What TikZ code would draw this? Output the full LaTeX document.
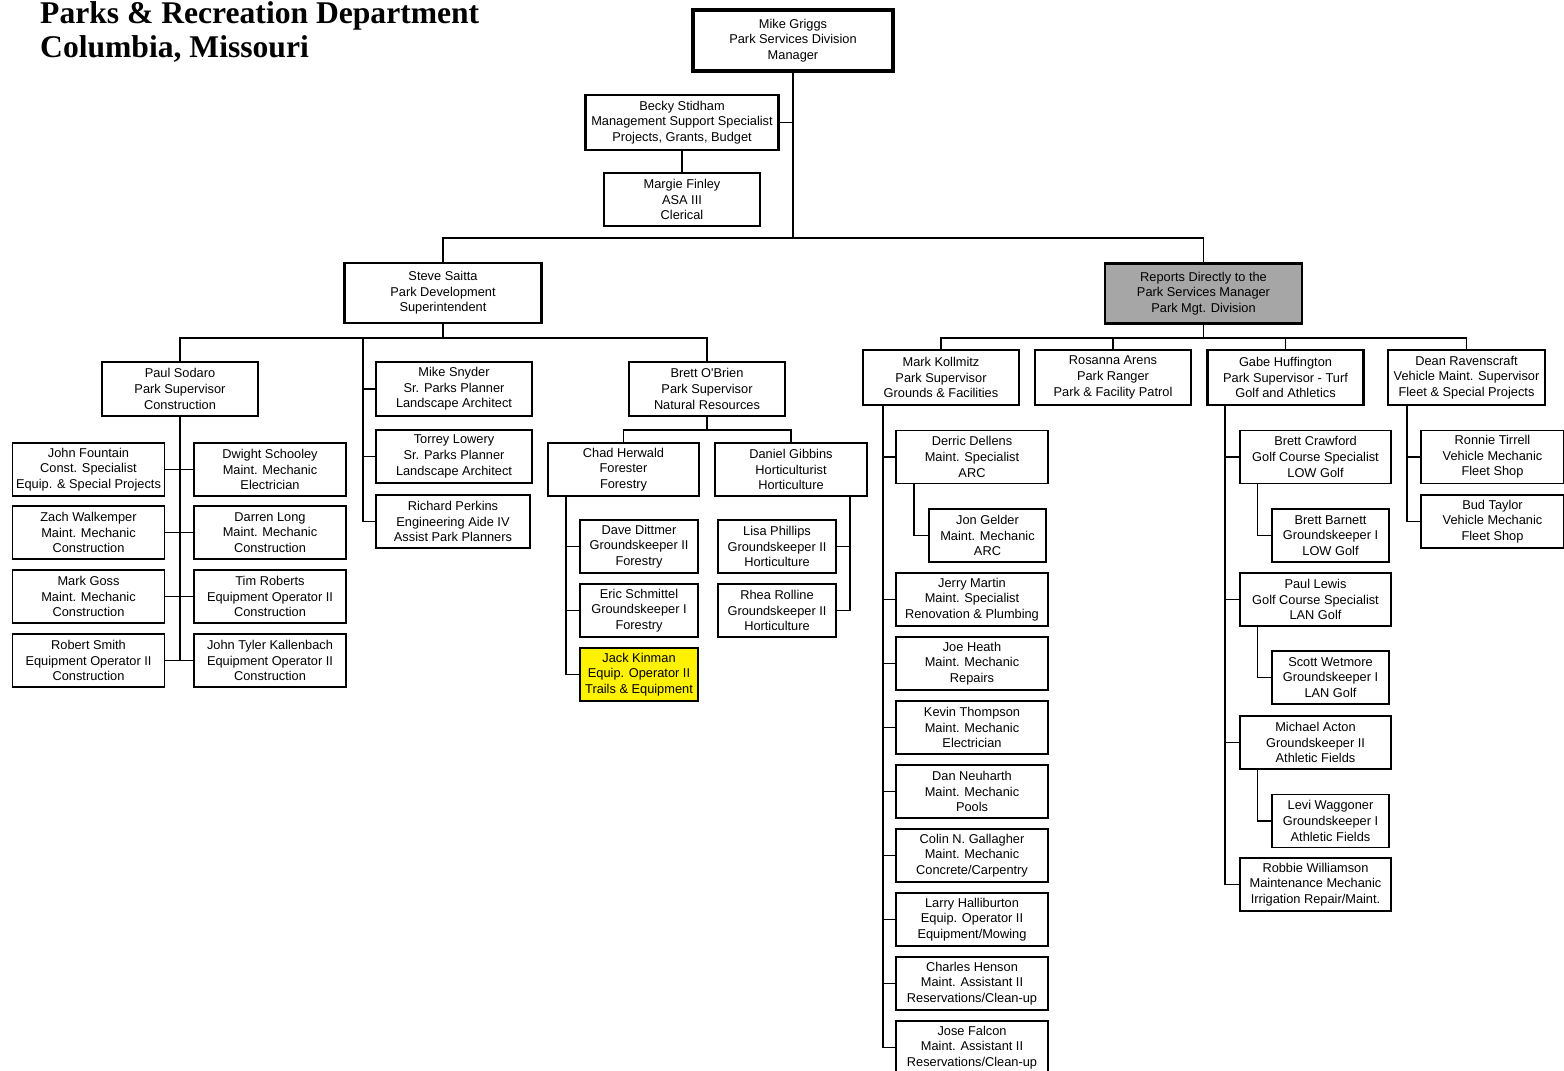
\documentclass[tikz,border=0pt]{standalone}
\usepackage{fontspec}
\setmainfont{Liberation Serif}
\newfontfamily\boxfamily{Liberation Sans}
\tikzset{
	basic/.style  = {draw, rectangle, align=center, inner sep=0pt, font=\boxfamily\fontsize{12.8}{15.6}\selectfont},
	staff/.style  = {basic, line width=1.1pt, minimum width=152pt, minimum height=53pt},
	small staff/.style = {staff, minimum width=118pt},
	super/.style  = {basic, line width=2.6pt, minimum width=156pt, minimum height=54pt},
	chief/.style  = {super, minimum width=197pt, minimum height=60pt},
	top/.style    = {basic, line width=4pt, minimum width=200pt, minimum height=61pt},
	link/.style   = {draw, line width=1.2pt},
	title/.style  = {font=\bfseries\fontsize{31.6}{34}\selectfont, anchor=base west, inner sep=0pt}
}
\begin{document}
\begin{tikzpicture}[x=1pt,y=-1pt]
	\useasboundingbox (0,0) rectangle (1564,1071);
	\fill[white] (0,0) rectangle (1564,1071);
	\node[title] (title1) at (40,23) {Parks \& Recreation Department};
	\node[title] (title2) at (40,57) {Columbia, Missouri};

	\node[top] (griggs) at (793,40.5) {Mike Griggs\\Park Services Division\\Manager};
	\node[super, minimum width=193pt, minimum height=55pt] (stidham) at (682,122.5) {Becky Stidham\\Management Support Specialist\\Projects, Grants, Budget};
	\node[staff, minimum width=156pt] (finley) at (682,199.5) {Margie Finley\\ASA III\\Clerical};
	\node[chief] (saitta) at (443,293) {Steve Saitta\\Park Development\\Superintendent};
	\node[chief, fill=black!35] (reports) at (1203.5,293.5) {Reports Directly to the\\Park Services Manager\\Park Mgt. Division};

	\node[super] (sodaro) at (180,389) {Paul Sodaro\\Park Supervisor\\Construction};
	\node[staff] (fountain) at (88.5,469.5) {John Fountain\\Const. Specialist\\Equip. \& Special Projects};
	\node[staff] (walkemper) at (88.5,532.5) {Zach Walkemper\\Maint. Mechanic\\Construction};
	\node[staff] (goss) at (88.5,596.5) {Mark Goss\\Maint. Mechanic\\Construction};
	\node[staff] (smith) at (88.5,660.5) {Robert Smith\\Equipment Operator II\\Construction};
	\node[staff] (schooley) at (270,469.5) {Dwight Schooley\\Maint. Mechanic\\Electrician};
	\node[staff] (long) at (270,532.5) {Darren Long\\Maint. Mechanic\\Construction};
	\node[staff] (roberts) at (270,596.5) {Tim Roberts\\Equipment Operator II\\Construction};
	\node[staff] (kallenbach) at (270,660.5) {John Tyler Kallenbach\\Equipment Operator II\\Construction};

	\node[super] (snyder) at (454,389) {Mike Snyder\\Sr. Parks Planner\\Landscape Architect};
	\node[super, minimum height=53pt] (lowery) at (454,456.5) {Torrey Lowery\\Sr. Parks Planner\\Landscape Architect};
	\node[staff, minimum width=154pt] (perkins) at (453,521.5) {Richard Perkins\\Engineering Aide IV\\Assist Park Planners};

	\node[super] (obrien) at (707,389) {Brett O'Brien\\Park Supervisor\\Natural Resources};
	\node[staff, minimum width=151pt] (herwald) at (623.5,469.5) {Chad Herwald\\Forester\\Forestry};
	\node[staff] (gibbins) at (791,469.5) {Daniel Gibbins\\Horticulturist\\Horticulture};
	\node[small staff] (dittmer) at (639,546.5) {Dave Dittmer\\Groundskeeper II\\Forestry};
	\node[small staff] (schmittel) at (639,610.5) {Eric Schmittel\\Groundskeeper I\\Forestry};
	\node[small staff, fill=yellow] (kinman) at (639,674.5) {Jack Kinman\\Equip. Operator II\\Trails \& Equipment};
	\node[small staff] (phillips) at (777,546.5) {Lisa Phillips\\Groundskeeper II\\Horticulture};
	\node[small staff] (rolline) at (777,610.5) {Rhea Rolline\\Groundskeeper II\\Horticulture};

	\node[super, minimum height=55pt] (kollmitz) at (941,377.5) {Mark Kollmitz\\Park Supervisor\\Grounds \& Facilities};
	\node[super, minimum height=55pt] (arens) at (1113,377.5) {Rosanna Arens\\Park Ranger\\Park \& Facility Patrol};
	\node[super, minimum height=55pt] (huffington) at (1285.5,377.5) {Gabe Huffington\\Park Supervisor - Turf\\Golf and Athletics};
	\node[super, minimum height=55pt, minimum width=157pt] (ravenscraft) at (1466.5,377.5) {Dean Ravenscraft\\Vehicle Maint. Supervisor\\Fleet \& Special Projects};

	\node[staff] (dellens) at (972,457) {Derric Dellens\\Maint. Specialist\\ARC};
	\node[small staff, minimum width=117pt] (gelder) at (987.5,535.5) {Jon Gelder\\Maint. Mechanic\\ARC};
	\node[staff] (martin) at (972,599.5) {Jerry Martin\\Maint. Specialist\\Renovation \& Plumbing};
	\node[staff] (heath) at (972,663.5) {Joe Heath\\Maint. Mechanic\\Repairs};
	\node[staff] (thompson) at (972,727.5) {Kevin Thompson\\Maint. Mechanic\\Electrician};
	\node[staff] (neuharth) at (972,791.5) {Dan Neuharth\\Maint. Mechanic\\Pools};
	\node[staff] (gallagher) at (972,855.5) {Colin N. Gallagher\\Maint. Mechanic\\Concrete/Carpentry};
	\node[staff] (halliburton) at (972,919.5) {Larry Halliburton\\Equip. Operator II\\Equipment/Mowing};
	\node[staff] (henson) at (972,983.5) {Charles Henson\\Maint. Assistant II\\Reservations/Clean-up};
	\node[staff] (falcon) at (972,1047.5) {Jose Falcon\\Maint. Assistant II\\Reservations/Clean-up};

	\node[staff, minimum width=151pt] (crawford) at (1315.5,457) {Brett Crawford\\Golf Course Specialist\\LOW Golf};
	\node[small staff, minimum width=117pt] (barnett) at (1330.5,535.5) {Brett Barnett\\Groundskeeper I\\LOW Golf};
	\node[staff, minimum width=151pt] (lewis) at (1315.5,599.5) {Paul Lewis\\Golf Course Specialist\\LAN Golf};
	\node[small staff, minimum width=117pt] (wetmore) at (1330.5,677.5) {Scott Wetmore\\Groundskeeper I\\LAN Golf};
	\node[staff, minimum width=151pt] (acton) at (1315.5,742.5) {Michael Acton\\Groundskeeper II\\Athletic Fields};
	\node[small staff, minimum width=117pt] (waggoner) at (1330.5,821) {Levi Waggoner\\Groundskeeper I\\Athletic Fields};
	\node[staff, minimum width=151pt] (williamson) at (1315.5,884.5) {Robbie Williamson\\Maintenance Mechanic\\Irrigation Repair/Maint.};

	\node[staff, minimum width=143pt] (tirrell) at (1492.5,457) {Ronnie Tirrell\\Vehicle Mechanic\\Fleet Shop};
	\node[staff, minimum width=143pt] (taylor) at (1492.5,521.5) {Bud Taylor\\Vehicle Mechanic\\Fleet Shop};

	\coordinate (hub) at (793,238);
	\coordinate (devhub) at (443,338);
	\coordinate (plantop) at (363,338);
	\coordinate (consend) at (180,661);
	\coordinate (nathub) at (707,430);
	\coordinate (forest) at (566,496);
	\coordinate (hort) at (850,496);
	\coordinate (mgthub) at (1203.5,338);
	\coordinate (grounds) at (883,405);
	\coordinate (golf) at (1225,405);
	\coordinate (fleet) at (1407,405);

	\draw[link] (griggs) -- (hub);
	\draw[link] (stidham.east) -- (stidham.east -| hub);
	\draw[link] (stidham) -- (finley);
	\draw[link] (saitta) |- (hub) -| (reports);

	\draw[link] (saitta) -- (devhub);
	\draw[link] (sodaro) |- (devhub) -| (obrien);
	\draw[link] (plantop) |- (perkins);
	\foreach \p in {snyder,lowery}
		\draw[link] (\p) -- (\p -| plantop);
	\draw[link] (sodaro) -- (consend);
	\foreach \p in {fountain,walkemper,goss,smith,schooley,long,roberts,kallenbach}
		\draw[link] (\p) -- (\p -| consend);

	\draw[link] (obrien) -- (nathub);
	\draw[link] (herwald) |- (nathub) -| (gibbins);
	\draw[link] (forest) |- (kinman);
	\foreach \p in {dittmer,schmittel}
		\draw[link] (\p) -- (\p -| forest);
	\draw[link] (hort) |- (rolline);
	\draw[link] (phillips) -- (phillips -| hort);

	\draw[link] (reports) -- (mgthub);
	\draw[link] (kollmitz) |- (mgthub) -| (ravenscraft);
	\foreach \p in {arens,huffington}
		\draw[link] (\p) -- (\p |- mgthub);

	\draw[link] (grounds) |- (falcon);
	\foreach \p in {dellens,martin,heath,thompson,neuharth,gallagher,halliburton,henson}
		\draw[link] (\p) -- (\p -| grounds);
	\draw[link] (golf) |- (williamson);
	\foreach \p in {crawford,lewis,acton}
		\draw[link] (\p) -- (\p -| golf);
	\foreach \a/\b in {dellens/gelder,crawford/barnett,lewis/wetmore,acton/waggoner}
		\draw[link] ([xshift=-58pt]\a.south) |- (\b);
	\draw[link] (fleet) |- (taylor);
	\draw[link] (tirrell) -- (tirrell -| fleet);
\end{tikzpicture}
\end{document}
